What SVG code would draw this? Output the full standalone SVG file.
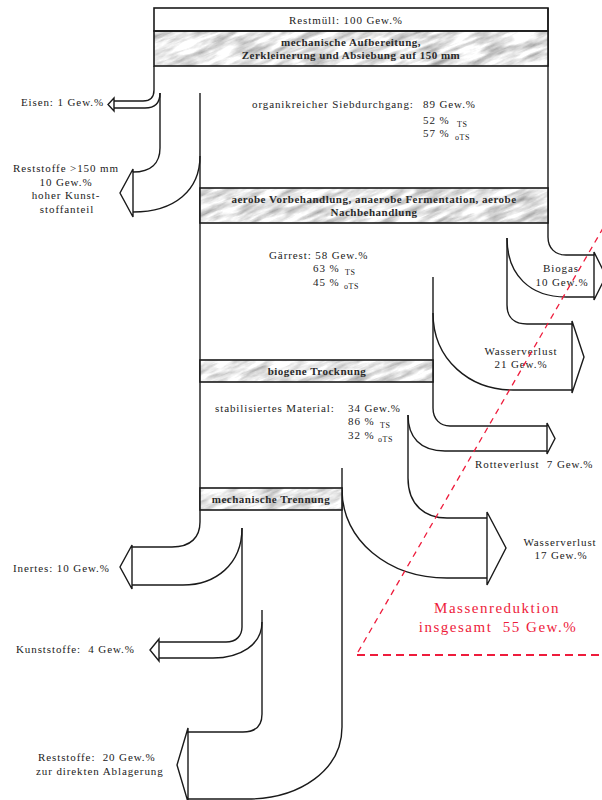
<svg xmlns="http://www.w3.org/2000/svg" width="602" height="800" viewBox="0 0 602 800">
<style>
.t{font-family:"Liberation Serif","Times New Roman",serif;font-size:11px;letter-spacing:0.9px;fill:#222}
.s{font-family:"Liberation Serif","Times New Roman",serif;font-size:8px;letter-spacing:0.5px;fill:#222}
.b{font-family:"Liberation Serif","Times New Roman",serif;font-size:11px;font-weight:bold;letter-spacing:0.5px;fill:#2a2a2a;text-anchor:middle}
.c{text-anchor:middle}
.ln{fill:none;stroke:#1a1a1a;stroke-width:1.4}
.ah{fill:#fff;stroke:#1a1a1a;stroke-width:1.4;stroke-linejoin:miter}
.box{fill:none;stroke:#1a1a1a;stroke-width:1.6}
.red{font-family:"Liberation Serif","Times New Roman",serif;font-size:15px;letter-spacing:1.5px;fill:#ee1c3c;text-anchor:middle}
</style>
<defs>
<filter id="marble" x="0" y="0" width="1" height="1" color-interpolation-filters="sRGB">
<feTurbulence type="fractalNoise" baseFrequency="0.035 0.16" numOctaves="5" seed="11"/>
<feColorMatrix type="matrix" values="0.7 0 0 0 0.55  0.7 0 0 0 0.55  0.7 0 0 0 0.55  0 0 0 0 1"/>
</filter>
<clipPath id="boxes">
<rect x="154" y="31" width="394" height="35"/>
<rect x="200" y="188" width="348" height="35"/>
<rect x="200" y="360" width="233" height="22"/>
<rect x="200" y="488" width="142" height="22"/>
</clipPath>
</defs>
<rect width="602" height="800" fill="#fff"/>

<g id="connectors">
<!-- Eisen -->
<path class="ln" d="M154,66 V90 C154,97 150,101 143,101 H114"/>
<path class="ln" d="M160,93 C160,103 155,108 145,108 H114"/>
<path class="ah" d="M114,98 L108,104.5 L114,111 Z"/>
<!-- Reststoffe >150 -->
<path class="ln" d="M160,93 V148 C160,163 151,172 133,172"/>
<path class="ln" d="M200,156 C200,190 175,212 133,212"/>
<path class="ah" d="M133,169 L120,193 L133,217 Z"/>
<!-- Inertes -->
<path class="ln" d="M200,93 V522 C200,537 191,547 172,547 H132"/>
<path class="ln" d="M242,528 C242,565 215,585 183,585 H132"/>
<path class="ah" d="M132,545 L120,567 L132,589 Z"/>
<!-- Kunststoffe -->
<path class="ln" d="M242,528 V627 C242,636 236,642 226,642 H159"/>
<path class="ln" d="M262,622 C262,645 240,658 213,658 H159"/>
<path class="ah" d="M159,639 L150,650 L159,661 Z"/>
<!-- Reststoffe 20 -->
<path class="ln" d="M262,610 V714 C262,726 255,732 243,732 H188"/>
<path class="ln" d="M342,468 V727 C342,770 300,799 247,799 H188"/>
<path class="ah" d="M188,728 L177,765 L188,802 Z"/>
<!-- Biogas -->
<path class="ln" d="M548,8 V237 C548,248 555,255 566,255 H594"/>
<path class="ln" d="M507,238 C507,275 530,297 566,297 H594"/>
<path class="ah" d="M594,252 L606,276 L594,300 Z"/>
<!-- Wasserverlust 21 -->
<path class="ln" d="M507,238 V305 C507,317 514,324 527,324 H572"/>
<path class="ln" d="M433,313 C433,360 470,390 513,390 H572"/>
<path class="ah" d="M572,321 L584,357 L572,393 Z"/>
<!-- Rotteverlust -->
<path class="ln" d="M433,277 V408 C433,419 440,426 450,426 H547"/>
<path class="ln" d="M408,415 C408,437 420,451 445,451 H547"/>
<path class="ah" d="M547,423 L555,438.5 L547,454 Z"/>
<!-- Wasserverlust 17 -->
<path class="ln" d="M408,415 V478 C408,505 425,518 447,518 H487"/>
<path class="ln" d="M342,490 C342,540 388,578 447,578 H487"/>
<path class="ah" d="M487,512 L506,548 L487,585 Z"/>
</g>

<g id="marble-texture" clip-path="url(#boxes)">
<rect x="-200" y="-200" width="1000" height="1200" transform="rotate(-22 301 400)" filter="url(#marble)"/>
</g>

<g id="restmuell">
<rect class="box" x="154" y="8" width="394" height="23" fill="#fff"/>
<text class="t c" x="346" y="24">Restmüll: 100 Gew.%</text>
</g>
<g id="mech-aufbereitung">
<rect class="box" x="154" y="31" width="394" height="35"/>
<text class="b" x="351" y="46">mechanische Aufbereitung,</text>
<text class="b" x="351" y="59">Zerkleinerung und Absiebung auf 150 mm</text>
</g>
<g id="eisen"><text class="t" x="104" y="106" text-anchor="end">Eisen: 1 Gew.%</text></g>
<g id="reststoffe150">
<text class="t c" x="66" y="172">Reststoffe &gt;150 mm</text>
<text class="t c" x="66" y="186">10 Gew.%</text>
<text class="t c" x="66" y="199">hoher Kunst-</text>
<text class="t c" x="67" y="213">stoffanteil</text>
</g>
<g id="siebdurchgang">
<text class="t" x="252" y="108">organikreicher Siebdurchgang:</text>
<text class="t" x="423" y="108">89 Gew.%</text>
<text class="t" x="423" y="124">52 %</text><text class="s" x="457" y="127">TS</text>
<text class="t" x="423" y="137">57 %</text><text class="s" x="455" y="140">oTS</text>
</g>
<g id="fermentation">
<rect class="box" x="200" y="188" width="348" height="35"/>
<text class="b" x="374" y="203">aerobe Vorbehandlung, anaerobe Fermentation, aerobe</text>
<text class="b" x="374" y="216">Nachbehandlung</text>
</g>
<g id="gaerrest">
<text class="t" x="269" y="259">Gärrest: 58 Gew.%</text>
<text class="t" x="313" y="272">63 %</text><text class="s" x="345" y="275">TS</text>
<text class="t" x="313" y="286">45 %</text><text class="s" x="344" y="289">oTS</text>
</g>
<g id="biogas">
<text class="t c" x="561" y="272">Biogas</text>
<text class="t c" x="562" y="286">10 Gew.%</text>
</g>
<g id="wasserverlust21">
<text class="t c" x="521" y="355">Wasserverlust</text>
<text class="t c" x="521" y="368">21 Gew.%</text>
</g>
<g id="trocknung">
<rect class="box" x="200" y="360" width="233" height="22"/>
<text class="b" x="317" y="375">biogene Trocknung</text>
</g>
<g id="stabilisiert">
<text class="t" x="215" y="412">stabilisiertes Material:</text>
<text class="t" x="348" y="412">34 Gew.%</text>
<text class="t" x="348" y="425">86 %</text><text class="s" x="380" y="428">TS</text>
<text class="t" x="348" y="439">32 %</text><text class="s" x="378" y="442">oTS</text>
</g>
<g id="rotteverlust"><text class="t" x="475" y="468" xml:space="preserve">Rotteverlust  7 Gew.%</text></g>
<g id="trennung">
<rect class="box" x="200" y="488" width="142" height="22"/>
<text class="b" x="271" y="503">mechanische Trennung</text>
</g>
<g id="wasserverlust17">
<text class="t c" x="560" y="546">Wasserverlust</text>
<text class="t c" x="561" y="559">17 Gew.%</text>
</g>
<g id="inertes"><text class="t" x="13" y="572">Inertes: 10 Gew.%</text></g>
<g id="kunststoffe"><text class="t" x="16" y="653" xml:space="preserve">Kunststoffe:  4 Gew.%</text></g>
<g id="reststoffe20">
<text class="t" x="38" y="761" xml:space="preserve">Reststoffe:  20 Gew.%</text>
<text class="t" x="36" y="775">zur direkten Ablagerung</text>
</g>
<g id="massenreduktion">
<path d="M358,652 L606,223" fill="none" stroke="#ee1c3c" stroke-width="1.3" stroke-dasharray="6 5"/>
<path d="M357,655 H602" fill="none" stroke="#ee1c3c" stroke-width="2" stroke-dasharray="8 5"/>
<text class="red" x="497" y="613">Massenreduktion</text>
<text class="red" x="498" y="632" xml:space="preserve">insgesamt  55 Gew.%</text>
</g>
</svg>
